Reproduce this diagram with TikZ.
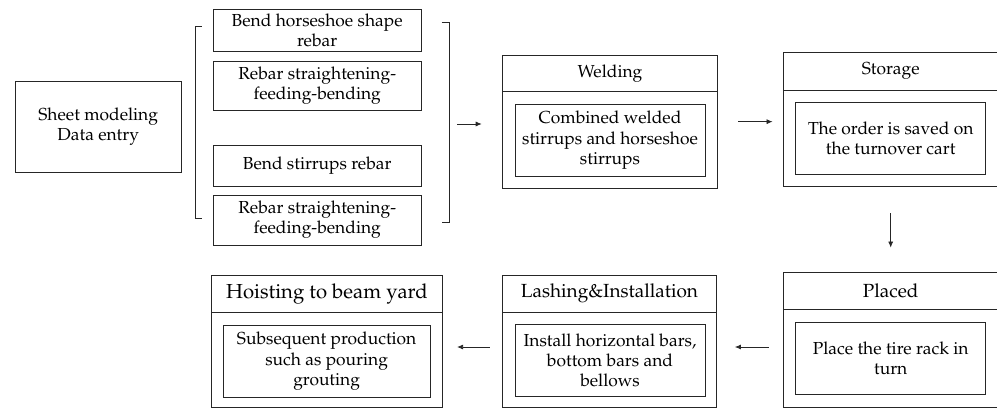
\documentclass[tikz,border=0pt]{standalone}
\usepackage[T1]{fontenc}
\usepackage{mathpazo}
\usetikzlibrary{arrows.meta}
\begin{document}
\begin{tikzpicture}[x=1pt,y=-1pt,line width=0.8pt,
  lc/.style={draw=black!85},
  box/.style={lc, rectangle, inner sep=0pt, align=center, font=\fontsize{17.4}{20.3}\selectfont},
  ttl/.style={inner sep=0pt, font=\fontsize{17.4}{20.5}\selectfont},
  bttl/.style={inner sep=0pt, font=\fontsize{19}{22}\selectfont},
  arr/.style={lc, -{Latex[length=6pt,width=5pt]}, line width=0.75pt}]
\clip (0,0) rectangle (997,408);
% left part
\node[box, minimum width=165.7pt, minimum height=90.6pt] (sheet) at (98.2,127) {Sheet modeling\\Data entry};
\node[box, minimum width=207.7pt, minimum height=41.7pt] (b1) at (317.2,30.2) {Bend horseshoe shape\\rebar};
\node[box, minimum width=207.7pt, minimum height=49pt] (b2) at (317.2,85.5) {Rebar straightening-\\feeding-bending};
\node[box, minimum width=207.7pt, minimum height=41.4pt] (b3) at (317.2,166) {Bend stirrups rebar};
\node[box, minimum width=207.7pt, minimum height=50pt] (b4) at (317.2,220) {Rebar straightening-\\feeding-bending};
% brackets
\coordinate (lbr) at (195,122.5);
\draw[lc] (201.7,26.7) -- (195,26.7) -- (195,218.3) -- (201.7,218.3);
\coordinate (rbr) at (449.3,124);
\draw[lc] (441.7,22.7) -- (449.3,22.7) -- (449.3,222.7) -- (441.7,222.7);
% Welding
\node[box, minimum width=214.6pt, minimum height=133.3pt] (weld) at (610,121.65) {};
\draw[lc] (weld.west |- 0,91.7) -- (weld.east |- 0,91.7);
\node[ttl] (weldt) at (610,73.35) {Welding};
\node[box, minimum width=190pt, minimum height=72.7pt] (weldin) at (610,140.35) {Combined welded\\stirrups and horseshoe\\stirrups};
% Storage
\node[box, minimum width=214.8pt, minimum height=133.3pt] (stor) at (890.7,119.35) {};
\draw[lc] (stor.west |- 0,90) -- (stor.east |- 0,90);
\node[ttl] (stort) at (890.7,71.35) {Storage};
\node[box, minimum width=190pt, minimum height=72pt] (storin) at (890.7,138.3) {The order is saved on\\the turnover cart};
% Placed
\node[box, minimum width=214.7pt, minimum height=134.6pt] (placed) at (890.7,340) {};
\draw[lc] (placed.west |- 0,309.3) -- (placed.east |- 0,309.3);
\node[bttl] (placedt) at (890.7,291) {Placed};
\node[box, minimum width=189.9pt, minimum height=71.3pt] (placedin) at (890.7,358.35) {Place the tire rack in\\turn};
% Lashing
\node[box, minimum width=214.4pt, minimum height=132.5pt] (lash) at (609.5,341.25) {};
\draw[lc] (lash.west |- 0,312.3) -- (lash.east |- 0,312.3);
\node[bttl] (lasht) at (609.5,293.65) {Lashing\&Installation};
\node[box, minimum width=190pt, minimum height=72.4pt] (lashin) at (610,360.5) {Install horizontal bars,\\bottom bars and\\bellows};
% Hoisting
\node[box, minimum width=230.6pt, minimum height=132.5pt] (hoist) at (327,341.25) {};
\draw[lc] (hoist.west |- 0,312.3) -- (hoist.east |- 0,312.3);
\node[bttl, font=\fontsize{20.3}{23}\selectfont] (hoistt) at (327,293.65) {Hoisting to beam yard};
\node[box, minimum width=206.7pt, minimum height=72.7pt] (hoistin) at (326.65,361.35) {Subsequent production\\such as pouring\\grouting};
% arrows
\coordinate (yb) at (0,347);
\draw[arr, shorten <=8pt, shorten >=20.6pt] (rbr) -- (weld.west |- rbr);
\draw[arr, shorten <=20.7pt, shorten >=10.3pt] (weld.east) -- (stor.west |- weld.east);
\draw[arr, shorten <=27pt, shorten >=24.7pt] (stor.south) -- (placed.north);
\draw[arr, shorten <=14.4pt, shorten >=17.8pt] (placed.west |- yb) -- (lash.east |- yb);
\draw[arr, shorten <=12.3pt, shorten >=14.4pt] (lash.west |- yb) -- (hoist.east |- yb);
\end{tikzpicture}
\end{document}
